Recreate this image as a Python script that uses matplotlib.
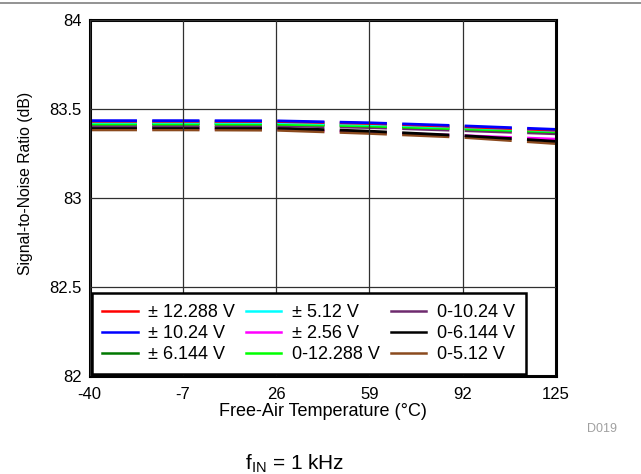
import matplotlib
matplotlib.use("Agg")
import matplotlib.pyplot as plt
from matplotlib.lines import Line2D

plt.rcParams['font.family'] = ['Liberation Sans', 'DejaVu Sans']
plt.rcParams['lines.scale_dashes'] = False
plt.rcParams['axes.unicode_minus'] = False
plt.rcParams['mathtext.fontset'] = 'custom'
plt.rcParams['mathtext.rm'] = 'Liberation Sans'

# temperature points (°C)
temps = [-40, -7, 26, 59, 92, 125]

# SNR (dB) per input range
labels = ["± 12.288 V", "± 10.24 V", "± 6.144 V",
          "± 5.12 V", "± 2.56 V", "0-12.288 V",
          "0-10.24 V", "0-6.144 V", "0-5.12 V"]
colors = ["#ff0000", "#0000ff", "#007800",
          "#00ffff", "#ff00ff", "#00ff00",
          "#6e2a6e", "#000000", "#8b4a1e"]
snr_pm12288 = [83.430, 83.430, 83.429, 83.418, 83.400, 83.380]
snr_pm1024 = [83.434, 83.434, 83.433, 83.422, 83.405, 83.385]
snr_pm6144 = [83.418, 83.418, 83.418, 83.405, 83.390, 83.370]
snr_pm512 = [83.425, 83.425, 83.424, 83.413, 83.397, 83.378]
snr_pm256 = [83.388, 83.388, 83.385, 83.368, 83.350, 83.330]
snr_012288 = [83.415, 83.415, 83.414, 83.404, 83.388, 83.372]
snr_01024 = [83.405, 83.405, 83.405, 83.395, 83.378, 83.360]
snr_06144 = [83.395, 83.395, 83.393, 83.375, 83.350, 83.318]
snr_0512 = [83.382, 83.382, 83.380, 83.362, 83.340, 83.305]
series = [snr_pm12288, snr_pm1024, snr_pm6144, snr_pm512, snr_pm256,
          snr_012288, snr_01024, snr_06144, snr_0512]

xticks = [-40, -7, 26, 59, 92, 125]
yticks = [82, 82.5, 83, 83.5, 84]

fig = plt.figure(figsize=(6.41, 4.74), dpi=100)
ax = fig.add_axes([0.140, 0.207, 0.727, 0.751])

# draw order: bottom series first so the top ones stay visible
order = [4, 8, 7, 6, 2, 5, 3, 0, 1]
for i in order:
    ax.plot(temps, series[i], color=colors[i], linewidth=2.0,
            linestyle=(0, (34, 11)), solid_capstyle='butt')

ax.set_xlim(-40, 125)
ax.set_ylim(82, 84)
ax.set_xticks(xticks)
ax.set_yticks(yticks)
ax.set_yticklabels(["82", "82.5", "83", "83.5", "84"])
ax.tick_params(labelsize=12, length=0)
ax.tick_params(axis='y', pad=6)
ax.tick_params(axis='x', pad=8)
ax.set_axisbelow(False)  # grid drawn over the curves, as in the original
ax.grid(True, color='#303030', linewidth=0.9)
for s in ax.spines.values():
    s.set_linewidth(2.2)
ax.set_xlabel("Free-Air Temperature (°C)", fontsize=13, labelpad=1)
ax.set_ylabel("Signal-to-Noise Ratio (dB)", fontsize=11.3)
ax.yaxis.set_label_coords(-0.122, 0.542)

handles = [Line2D([0], [0], color=c, linewidth=1.8) for c in colors]
leg = ax.legend(handles, labels, ncol=3, loc='lower left', fontsize=13,
                fancybox=False, framealpha=1, edgecolor='black',
                handlelength=1.95, handletextpad=0.6, columnspacing=0.6,
                labelspacing=0.22, borderpad=0.6, borderaxespad=0.1,
                bbox_to_anchor=(0.0, 0.0))
leg.set_zorder(5)
leg.get_frame().set_linewidth(1.8)

fig.text(0.963, 0.088, "D019", fontsize=9, color='#a0a0a0', ha='right')
fig.text(0.46, 0.01, r"f$_{\mathrm{IN}}$ = 1 kHz", fontsize=15, ha='center')
fig.add_artist(Line2D([0, 1], [0.994, 0.994], color='#808080', linewidth=1.2,
                      transform=fig.transFigure))

fig.savefig("out.png", dpi=100)
